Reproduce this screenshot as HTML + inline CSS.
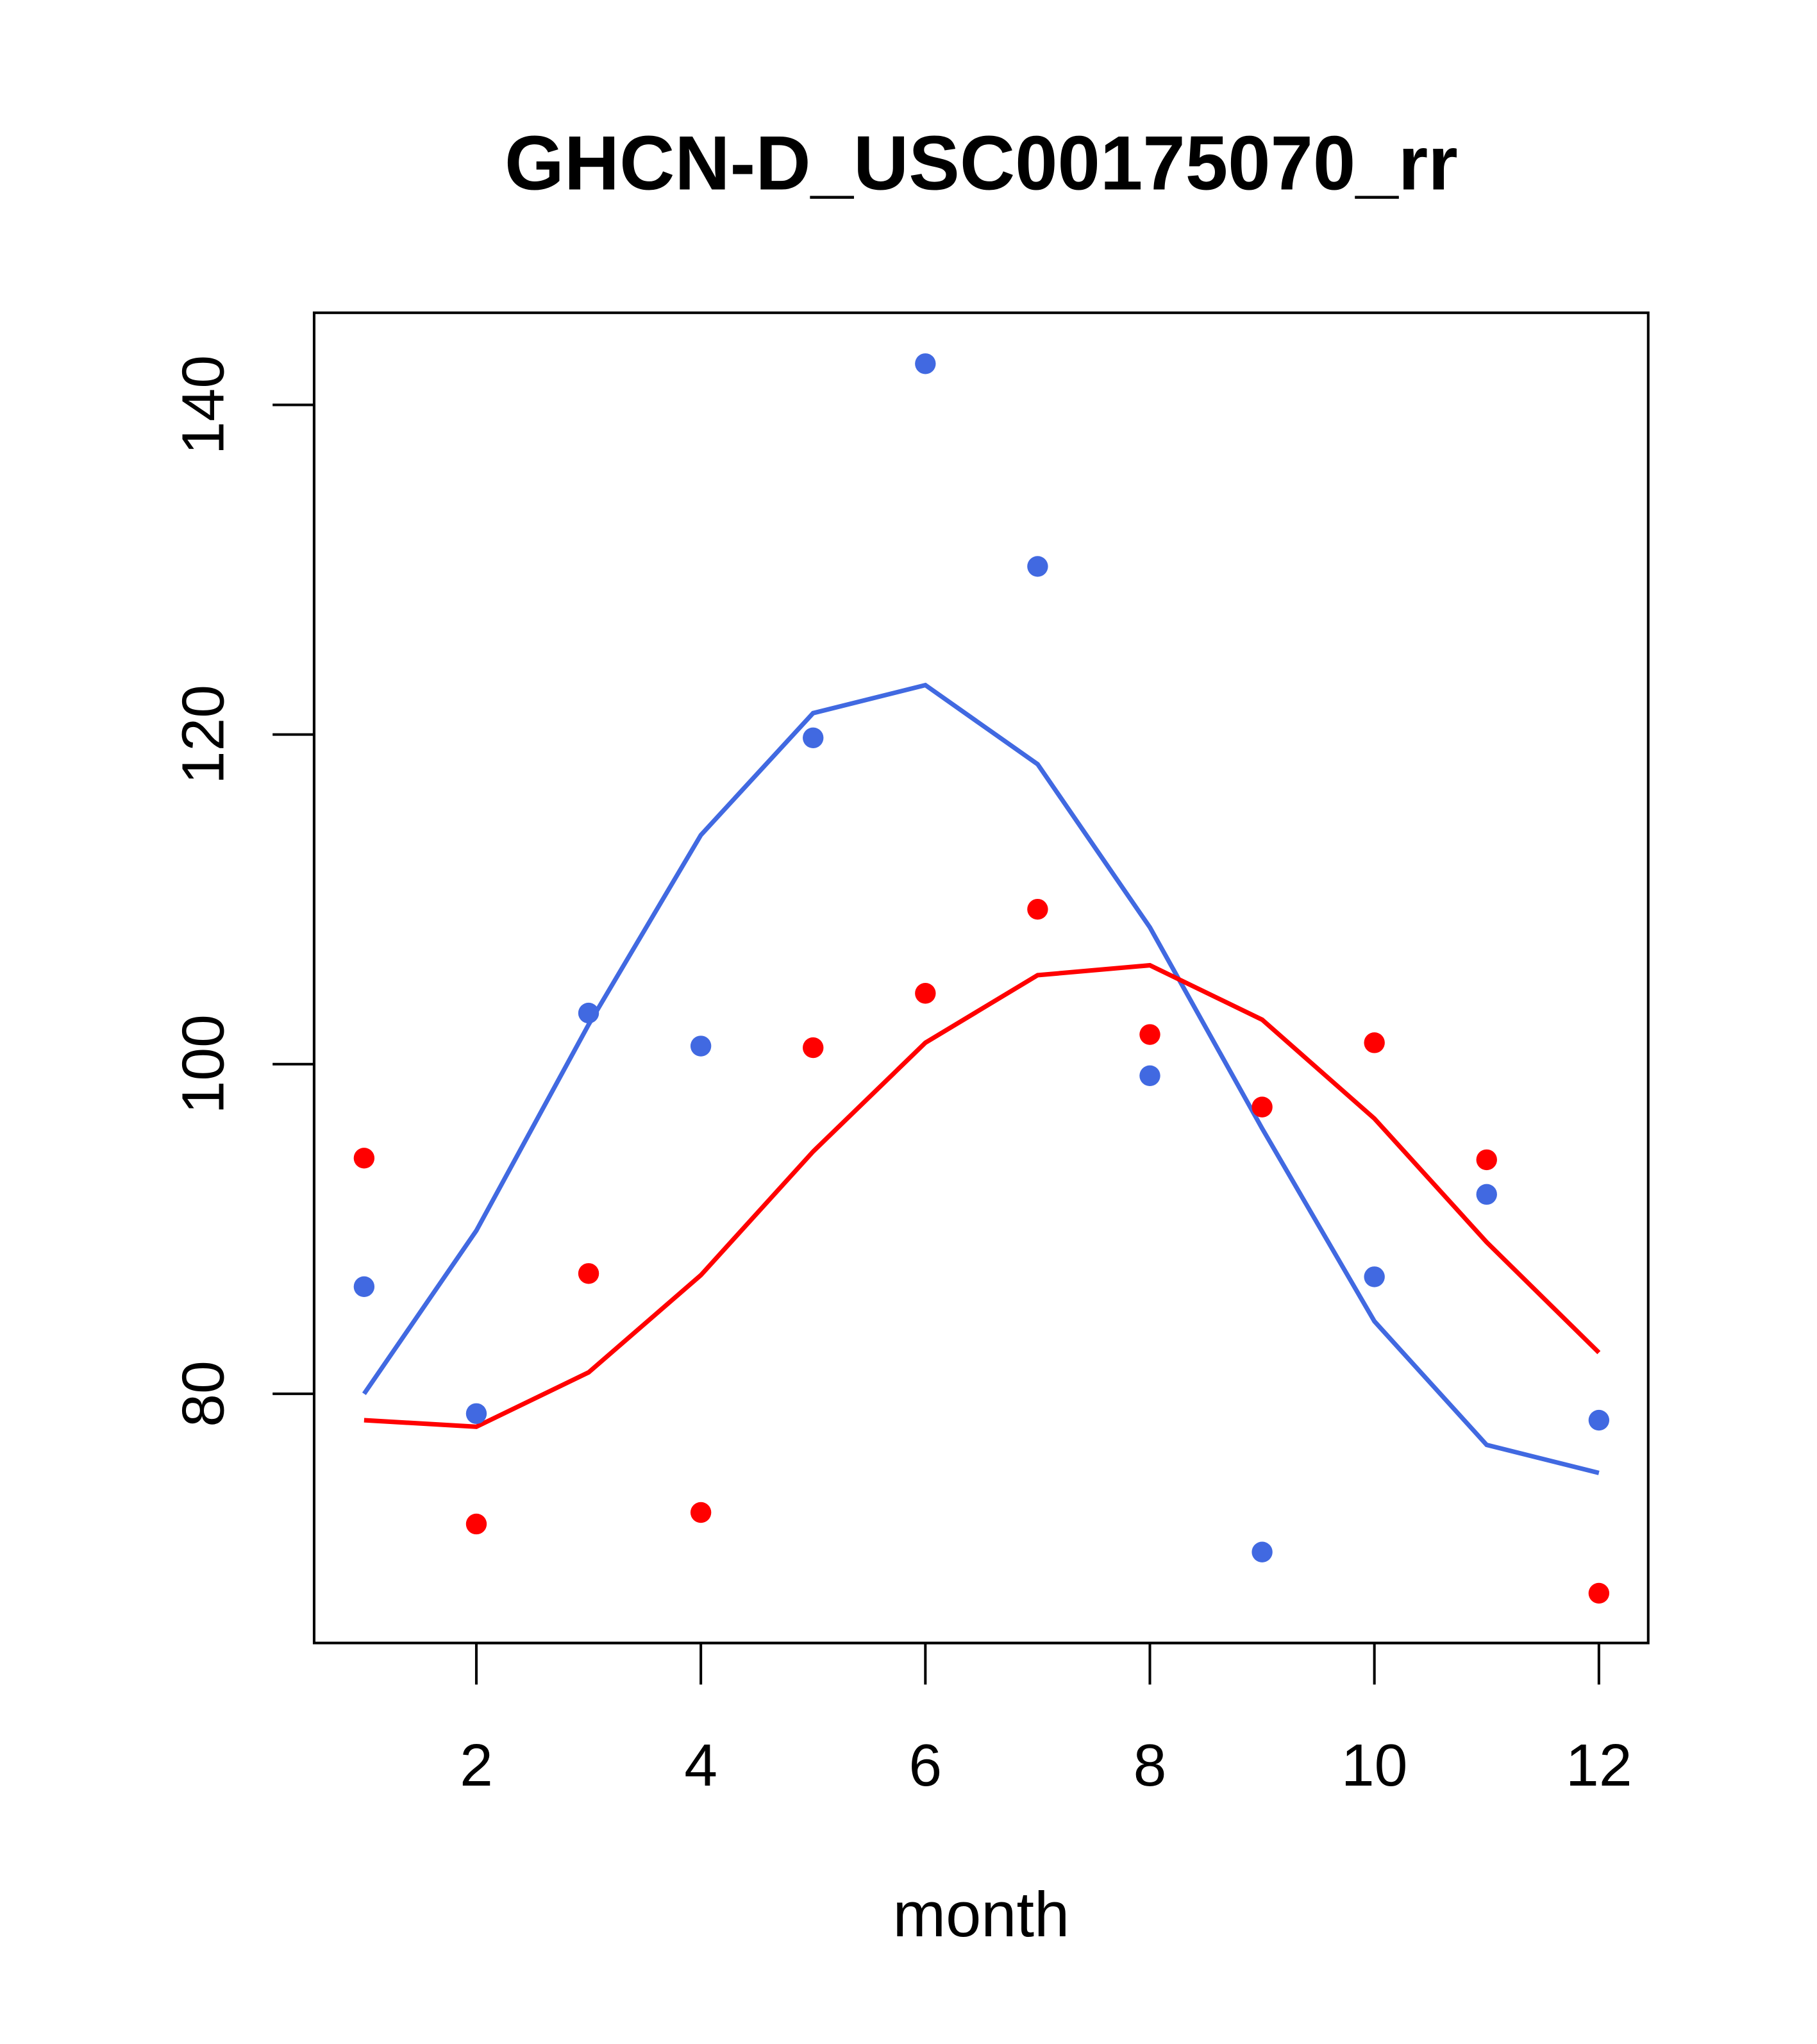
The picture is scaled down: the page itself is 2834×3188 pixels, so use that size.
<!DOCTYPE html>
<html><head><meta charset="utf-8"><style>html,body{margin:0;padding:0;background:#fff}svg{display:block}text{font-family:"Liberation Sans",sans-serif}</style></head>
<body>
<svg id="chart" width="2834" height="3188" viewBox="0 0 1400 1575" xmlns="http://www.w3.org/2000/svg">
<rect width="1400" height="1575" fill="#fff"/>
<text x="756" y="146" font-size="59" font-weight="bold" text-anchor="middle">GHCN-D_USC00175070_rr</text>
<rect x="242" y="241" width="1028" height="1025" fill="none" stroke="#000" stroke-width="2"/>
<text x="756" y="1492" font-size="49" text-anchor="middle">month</text>
<g id="xaxis"></g>
<g id="yaxis"></g>
<g id="series"></g>
</svg>
<script>
const months=[1,2,3,4,5,6,7,8,9,10,11,12];
const blueLine=[80,89.9,102.4,113.9,121.3,123.0,118.2,108.3,96.1,84.4,76.9,75.2];
const redLine=[78.4,78.0,81.3,87.2,94.7,101.3,105.4,106.0,102.7,96.7,89.2,82.5];
const bluePts=[86.5,78.8,103.1,101.1,119.8,142.5,130.2,99.3,70.4,87.1,92.1,78.4];
const redPts=[94.3,72.1,87.3,72.8,101.0,104.3,109.4,101.8,97.4,101.3,94.2,67.9];
const xTicks=[2,4,6,8,10,12];
const yTicks=[80,100,120,140];
const NS="http://www.w3.org/2000/svg";
function X(m){return 280.5+(m-1)*86.5;}
function Y(v){return 1074-(v-80)*12.7;}
function mk(t,a,p){const e=document.createElementNS(NS,t);for(const k in a)e.setAttribute(k,a[k]);p.appendChild(e);return e;}
const xa=document.getElementById('xaxis'),ya=document.getElementById('yaxis'),sg=document.getElementById('series');
mk('line',{x1:X(2),x2:X(12),y1:1266,y2:1266,stroke:'#000','stroke-width':2},xa);
xTicks.forEach(t=>{
 const l=mk('line',{x1:X(t),x2:X(t),y1:1266,y2:1298,stroke:'#000','stroke-width':2},xa);
 
 
 const tx=mk('text',{x:X(t),y:1376,'font-size':46,'text-anchor':'middle'},xa);tx.textContent=t;
 
 
});
mk('line',{x1:242,x2:242,y1:Y(80),y2:Y(140),stroke:'#000','stroke-width':2},ya);
yTicks.forEach(t=>{
 const l=mk('line',{x1:210,x2:242,y1:Y(t),y2:Y(t),stroke:'#000','stroke-width':2},ya);
 
 
 const tx=mk('text',{x:0,y:0,'font-size':46,'text-anchor':'middle',transform:`translate(172,${Y(t)}) rotate(-90)`},ya);tx.textContent=t;
 
 
});
function line(vals,col,name){
 const p=mk('polyline',{points:vals.map((v,i)=>X(months[i])+','+Y(v)).join(' '),fill:'none',stroke:col,'stroke-width':3.5},sg);
 
 
}
function pts(vals,col,name){
 vals.forEach((v,i)=>{
  const c=mk('circle',{cx:X(months[i]),cy:Y(v),r:8,fill:col},sg);
  
  
 });
}
line(blueLine,'#4169E1','blue-line');
line(redLine,'#FF0000','red-line');
pts(bluePts,'#4169E1','blue-point');
pts(redPts,'#FF0000','red-point');
</script>
</body></html>
